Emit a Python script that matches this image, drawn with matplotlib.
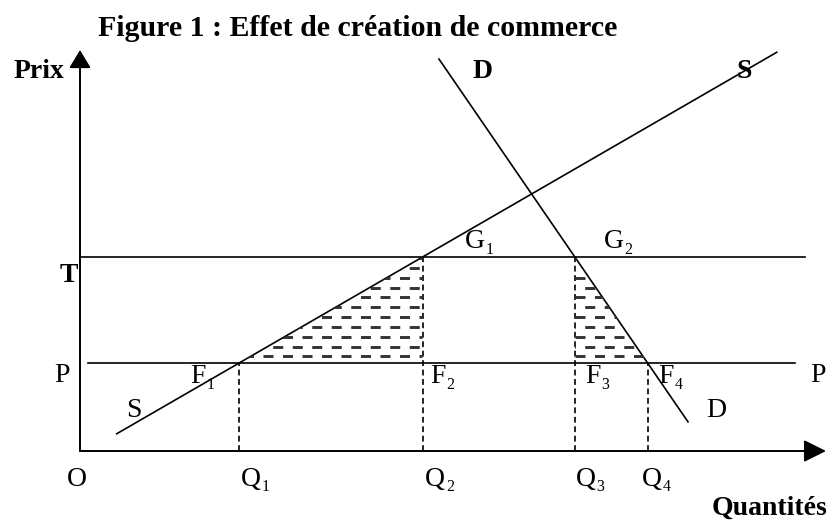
import matplotlib
matplotlib.use("Agg")
import matplotlib.pyplot as plt
from matplotlib.patches import Polygon

plt.rcParams['font.family'] = ['Liberation Serif', 'DejaVu Serif']
plt.rcParams['lines.scale_dashes'] = False

# ---- schematic parameters (price / quantity units) ----
P_WORLD = 8.8          # world price P
T_PRICE = 19.4         # price with tariff T
S_INT, S_SLOPE = -0.4, 0.578     # supply: price = S_INT + S_SLOPE * q
D_INT, D_SLOPE = 91.5, 1.457     # demand: price = D_INT - D_SLOPE * q
S_Q_RANGE = [3.67, 69.67]
D_Q_RANGE = [35.9, 60.8]
H_LINE_T = [0.0, 72.5]
H_LINE_P = [0.8, 71.5]
title = "Figure 1 : Effet de création de commerce"
q_labels = ["Q", "Q", "Q", "Q"]
f_labels = ["F", "F", "F", "F"]
g_labels = ["G", "G"]
subscripts = ["1", "2", "3", "4"]

def supply_q(p):
    return (p - S_INT) / S_SLOPE

def demand_q(p):
    return (D_INT - p) / D_SLOPE

Q1 = supply_q(P_WORLD)
Q2 = supply_q(T_PRICE)
Q3 = demand_q(T_PRICE)
Q4 = demand_q(P_WORLD)

fig = plt.figure(figsize=(8.34, 5.25), dpi=100)
ax = fig.add_axes([0, 0, 1, 1])
ax.set_xlim(-8, 75.4)
ax.set_ylim(-7.4, 45.1)
ax.axis('off')

LW = 1.2
# axes with arrows
ax.annotate('', xy=(0, 40.1), xytext=(0, 0),
            arrowprops=dict(arrowstyle='-|>,head_length=0.55,head_width=0.33',
                            mutation_scale=20, lw=1.4, color='black',
                            shrinkA=0, shrinkB=0))
ax.annotate('', xy=(74.6, 0), xytext=(0, 0),
            arrowprops=dict(arrowstyle='-|>,head_length=0.68,head_width=0.34',
                            mutation_scale=20, lw=1.4, color='black',
                            shrinkA=0, shrinkB=0))

# horizontal price lines
ax.plot(H_LINE_T, [T_PRICE, T_PRICE], color='black', lw=LW)
ax.plot(H_LINE_P, [P_WORLD, P_WORLD], color='black', lw=LW)

# supply & demand
sq = S_Q_RANGE
ax.plot(sq, [S_INT + S_SLOPE * q for q in sq], color='black', lw=LW)
dq = D_Q_RANGE
ax.plot(dq, [D_INT - D_SLOPE * q for q in dq], color='black', lw=LW)

# dashed verticals
dash = (0, (4.2, 2.6))
for q, top in [(Q1, P_WORLD), (Q2, T_PRICE), (Q3, T_PRICE), (Q4, P_WORLD)]:
    ax.plot([q, q], [0, top], color='black', lw=LW, linestyle=dash)

# hatched triangles (rows of horizontal dashes)
tri_left = Polygon([(Q1, P_WORLD), (Q2, T_PRICE), (Q2, P_WORLD)], closed=True,
                   facecolor='none', edgecolor='none', transform=ax.transData)
tri_right = Polygon([(Q3, T_PRICE), (Q3, P_WORLD), (Q4, P_WORLD)], closed=True,
                    facecolor='none', edgecolor='none', transform=ax.transData)
ax.add_patch(tri_left)
ax.add_patch(tri_right)
period = 1.95
dash_pt = 7.2
gap_pt = period * 10 * 0.72 - dash_pt
x0 = Q3 - 20 * period
k = 0
p = P_WORLD + 0.67
while p < T_PRICE:
    off = (dash_pt + gap_pt) / 2 if k % 2 else 0
    for tri in (tri_left, tri_right):
        ln, = ax.plot([x0, Q4 + 1], [p, p], color='#333333', lw=2.1,
                      linestyle=(off, (dash_pt, gap_pt)), solid_capstyle='butt',
                      dash_capstyle='butt')
        ln.set_clip_path(tri)
    k += 1
    p += 0.98

# ---- text ----
FS = 20
SFS = 11.5

def sub_label(x, y, letter, sub):
    t = ax.text(x, y, letter, fontsize=FS, ha='left', va='baseline')
    ax.annotate(sub, xy=(1, 0), xycoords=t, xytext=(0.5, -2.6),
                textcoords='offset points', fontsize=SFS, ha='left', va='bottom')

fig.text(98 / 834, 1 - 36 / 525, title, fontsize=21.5, fontweight='bold',
         ha='left', va='baseline')
ax.text(-1.6, 37.3, "Prix", fontsize=FS, fontweight='bold', ha='right', va='baseline')
ax.text(-0.2, 16.9, "T", fontsize=FS, fontweight='bold', ha='right', va='baseline')
ax.text(-1.0, P_WORLD - 1.9, "P", fontsize=FS, ha='right', va='baseline')
ax.text(73.0, P_WORLD - 1.9, "P", fontsize=FS, ha='left', va='baseline')
ax.text(39.3, 37.3, "D", fontsize=FS, fontweight='bold', ha='left', va='baseline')
ax.text(65.7, 37.3, "S", fontsize=FS, fontweight='bold', ha='left', va='baseline')
ax.text(4.6, 3.4, "S", fontsize=FS, ha='left', va='baseline')
ax.text(62.6, 3.4, "D", fontsize=FS, ha='left', va='baseline')
ax.text(-0.3, -3.5, "O", fontsize=FS, ha='center', va='baseline')
ax.text(74.7, -6.4, "Quantités", fontsize=FS, fontweight='bold', ha='right', va='baseline')

for i, (q, dx) in enumerate([(Q1, 0.15), (Q2, 0.25), (Q3, 0.1), (Q4, -0.6)]):
    sub_label(q + dx, -3.45, q_labels[i], subscripts[i])

for i, (q, dx) in enumerate([(Q1, -4.9), (Q2, 0.75), (Q3, 1.0), (Q4, 1.1)]):
    sub_label(q + dx, P_WORLD - 2.0, f_labels[i], subscripts[i])

sub_label(Q2 + 4.2, T_PRICE + 0.9, g_labels[0], subscripts[0])
sub_label(Q3 + 2.9, T_PRICE + 0.9, g_labels[1], subscripts[1])

fig.savefig("out.png", dpi=100)
